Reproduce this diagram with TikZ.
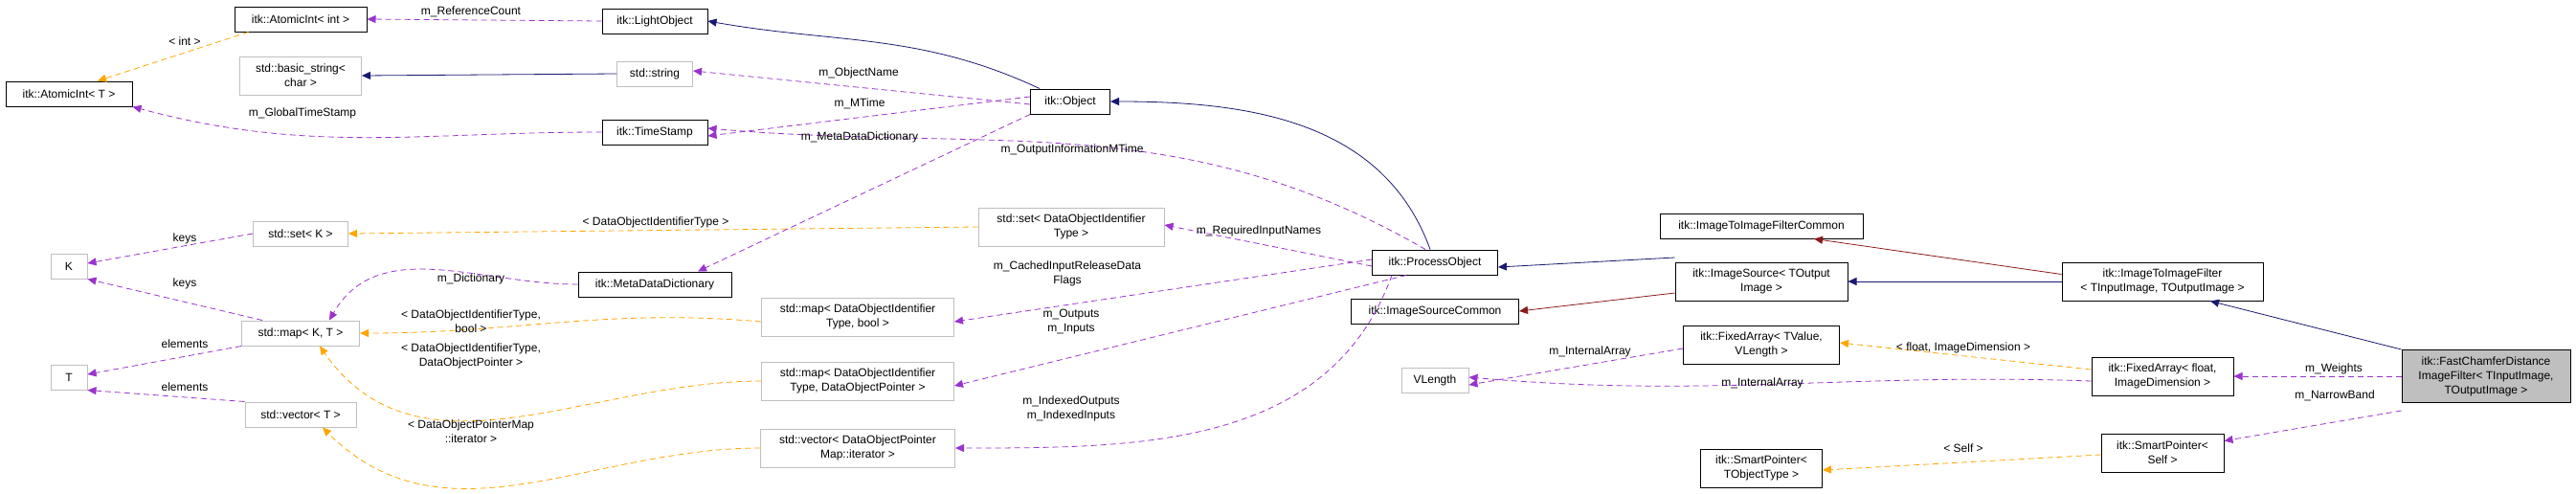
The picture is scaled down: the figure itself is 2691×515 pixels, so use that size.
\documentclass[tikz,border=0pt]{standalone}
\usepackage{fontspec}
\setmainfont{Liberation Sans}
\usetikzlibrary{arrows.meta}
\definecolor{inh}{HTML}{191970}
\definecolor{usg}{HTML}{9A32CD}
\definecolor{tpl}{HTML}{FFA500}
\definecolor{prv}{HTML}{8B1A1A}
\definecolor{gb}{HTML}{BFBFBF}
\begin{document}
\begin{tikzpicture}[x=1pt,y=-1pt,
 font=\fontsize{12}{15}\selectfont,
 cls/.style={draw=black,line width=1pt,align=center,inner sep=2pt,fill=white},
 ext/.style={draw=gb,line width=1pt,align=center,inner sep=2pt,fill=white},
 tip/.style={-{Triangle[length=9pt,width=8pt]}},
 inhe/.style={tip,draw=inh,line width=0.8pt},
 prve/.style={tip,draw=prv,line width=0.8pt},
 usge/.style={tip,draw=usg,line width=0.8pt,dash pattern=on 6pt off 4pt},
 tple/.style={tip,draw=tpl,line width=0.8pt,dash pattern=on 6pt off 4pt},
 lbl/.style={align=center,inner sep=0pt,font=\fontsize{12}{15}\selectfont}]
\useasboundingbox (0,0) rectangle (2691,515);
% nodes
\node[cls,minimum width=138,minimum height=26] (ai) at (314,20) {itk::AtomicInt< int >};
\node[cls,minimum width=110,minimum height=26] (lo) at (684,22) {itk::LightObject};
\node[cls,minimum width=132,minimum height=26] (at) at (72,98) {itk::AtomicInt< T >};
\node[ext,minimum width=127,minimum height=40] (bs) at (314,79) {std::basic\_string<\\char >};
\node[ext,minimum width=79,minimum height=26] (ss) at (684,77) {std::string};
\node[cls,minimum width=110,minimum height=26] (ts) at (684,138) {itk::TimeStamp};
\node[ext,minimum width=38,minimum height=26] (K) at (72,278) {K};
\node[ext,minimum width=99,minimum height=26] (sk) at (314,244) {std::set< K >};
\node[cls,minimum width=160,minimum height=26] (md) at (684,297) {itk::MetaDataDictionary};
\node[ext,minimum width=123,minimum height=26] (mk) at (314,348) {std::map< K, T >};
\node[ext,minimum width=38,minimum height=26] (T) at (72,394) {T};
\node[ext,minimum width=116,minimum height=26] (vt) at (314,433) {std::vector< T >};
\node[cls,minimum width=83,minimum height=26] (ob) at (1118,106) {itk::Object};
\node[ext,minimum width=194,minimum height=40] (sd) at (1119,237) {std::set< DataObjectIdentifier\\Type >};
\node[ext,minimum width=201,minimum height=40] (mb) at (896,331) {std::map< DataObjectIdentifier\\Type, bool >};
\node[ext,minimum width=201,minimum height=40] (mp) at (896,398) {std::map< DataObjectIdentifier\\Type, DataObjectPointer >};
\node[ext,minimum width=203,minimum height=40] (vd) at (896,468) {std::vector< DataObjectPointer\\Map::iterator >};
\node[cls,minimum width=131,minimum height=26] (po) at (1499,274) {itk::ProcessObject};
\node[cls,minimum width=175,minimum height=26] (isc) at (1499,325) {itk::ImageSourceCommon};
\node[ext,minimum width=70,minimum height=26] (vl) at (1499,397) {VLength};
\node[cls,minimum width=212,minimum height=26] (itc) at (1840,236) {itk::ImageToImageFilterCommon};
\node[cls,minimum width=180,minimum height=40] (is) at (1840,294) {itk::ImageSource< TOutput\\Image >};
\node[cls,minimum width=163,minimum height=40] (fv) at (1840,360) {itk::FixedArray< TValue,\\VLength >};
\node[cls,minimum width=127,minimum height=40] (sp) at (1840,489) {itk::SmartPointer<\\TObjectType >};
\node[cls,minimum width=210,minimum height=40] (itf) at (2259,294) {itk::ImageToImageFilter\\< TInputImage, TOutputImage >};
\node[cls,minimum width=148,minimum height=40] (ff) at (2259,393) {itk::FixedArray< float,\\ImageDimension >};
\node[cls,minimum width=128,minimum height=40] (ss2) at (2259,473) {itk::SmartPointer<\\Self >};
\node[cls,fill=gb,minimum width=176,minimum height=55] (fc) at (2597,393) {itk::FastChamferDistance\\ImageFilter< TInputImage,\\TOutputImage >};
% inheritance
\draw[inhe] ([xshift=10]ob.north west) to[out=155,in=-10] (lo.east);
\draw[inhe] (ss.west) -- (bs.east);
\draw[inhe] ([xshift=-5]po.north) to[out=110,in=0] (ob.east);
\draw[inhe] ([yshift=5]is.west |- po.east) -- ([yshift=-5]po.east);
\draw[inhe] (itf.west) -- (is.east);
\draw[inhe] (fc.north west) -- ([xshift=50]itf.south);
\draw[prve] ([yshift=-12]is.west) -- (isc.east);
\draw[prve] ([yshift=-13]itf.north west) -- ([xshift=55]itc.south);
% templates
\draw[tple] ([xshift=15]ai.south west) -- ([xshift=30]at.north);
\draw[tple] (sd.west) -- (sk.east);
\draw[tple] ([yshift=-5]mb.west) to[out=175,in=0] (mk.east);
\draw[tple] (mp.west) to[out=180,in=-55] ([xshift=20]mk.south);
\draw[tple] (vd.west) to[out=180,in=-45] ([xshift=23]vt.south);
\draw[tple] ([yshift=7]ff.west) -- ([yshift=2]fv.east);
\draw[tple] ([yshift=-2]ss2.west) -- ([yshift=-2]sp.east);
\node[lbl] at (193,43) {< int >};
\node[lbl] at (685,232) {< DataObjectIdentifierType >};
\node[lbl] at (492,336) {< DataObjectIdentifierType,\\bool >};
\node[lbl] at (492,372) {< DataObjectIdentifierType,\\DataObjectPointer >};
\node[lbl] at (492,451) {< DataObjectPointerMap\\::iterator >};
\node[lbl] at (2051,363) {< float, ImageDimension >};
\node[lbl] at (2051,468) {< Self >};
% usage
\draw[usge] (lo.west) -- (ai.east);
\draw[usge] (ts.west) to[out=180,in=-15] (at.south east);
\draw[usge] ([yshift=-3]ob.west) -- ([yshift=3]ss.east);
\draw[usge] ([yshift=5]ob.west) -- ([yshift=-4]ts.east);
\draw[usge] (ob.south west) -- ([xshift=45]md.north);
\draw[usge] ([xshift=-10]po.north) to[out=150,in=-5] ([yshift=4]ts.east);
\draw[usge] (md.west) to[out=180,in=60] ([xshift=30]mk.north);
\draw[usge] (sk.west) -- ([yshift=3]K.east);
\draw[usge] ([xshift=-40]mk.north) -- (K.south east);
\draw[usge] (mk.south west) -- ([yshift=3]T.east);
\draw[usge] (vt.north west) -- (T.south east);
\draw[usge] ([yshift=-4]po.west) -- ([yshift=2]sd.east);
\draw[usge] ([yshift=3]po.west) -- ([yshift=-5]mb.east);
\draw[usge] ([xshift=-30]po.south) -- ([yshift=-5]mp.east);
\draw[usge] ([xshift=-45]po.south) to[out=-110,in=0] (vd.east);
\draw[usge] ([yshift=-4]fv.west) -- ([yshift=-5]vl.east);
\draw[usge] ([yshift=-5]ff.west) to[out=178,in=-5] ([yshift=3]vl.east);
\draw[usge] (fc.west) -- (ff.east);
\draw[usge] ([yshift=-8]fc.south west) -- ([yshift=-8]ss2.north east);
\node[lbl] at (492,12) {m\_ReferenceCount};
\node[lbl] at (316,118) {m\_GlobalTimeStamp};
\node[lbl] at (897,76) {m\_ObjectName};
\node[lbl] at (898,108) {m\_MTime};
\node[lbl] at (898,143) {m\_MetaDataDictionary};
\node[lbl] at (1120,156) {m\_OutputInformationMTime};
\node[lbl] at (492,291) {m\_Dictionary};
\node[lbl] at (193,249) {keys};
\node[lbl] at (193,296) {keys};
\node[lbl] at (193,359) {elements};
\node[lbl] at (193,404) {elements};
\node[lbl] at (1315,241) {m\_RequiredInputNames};
\node[lbl] at (1115,286) {m\_CachedInputReleaseData\\Flags};
\node[lbl] at (1119,336) {m\_Outputs\\m\_Inputs};
\node[lbl] at (1119,427) {m\_IndexedOutputs\\m\_IndexedInputs};
\node[lbl] at (1661,367) {m\_InternalArray};
\node[lbl] at (1841,400) {m\_InternalArray};
\node[lbl] at (2438,385) {m\_Weights};
\node[lbl] at (2439,413) {m\_NarrowBand};
\end{tikzpicture}
\end{document}
